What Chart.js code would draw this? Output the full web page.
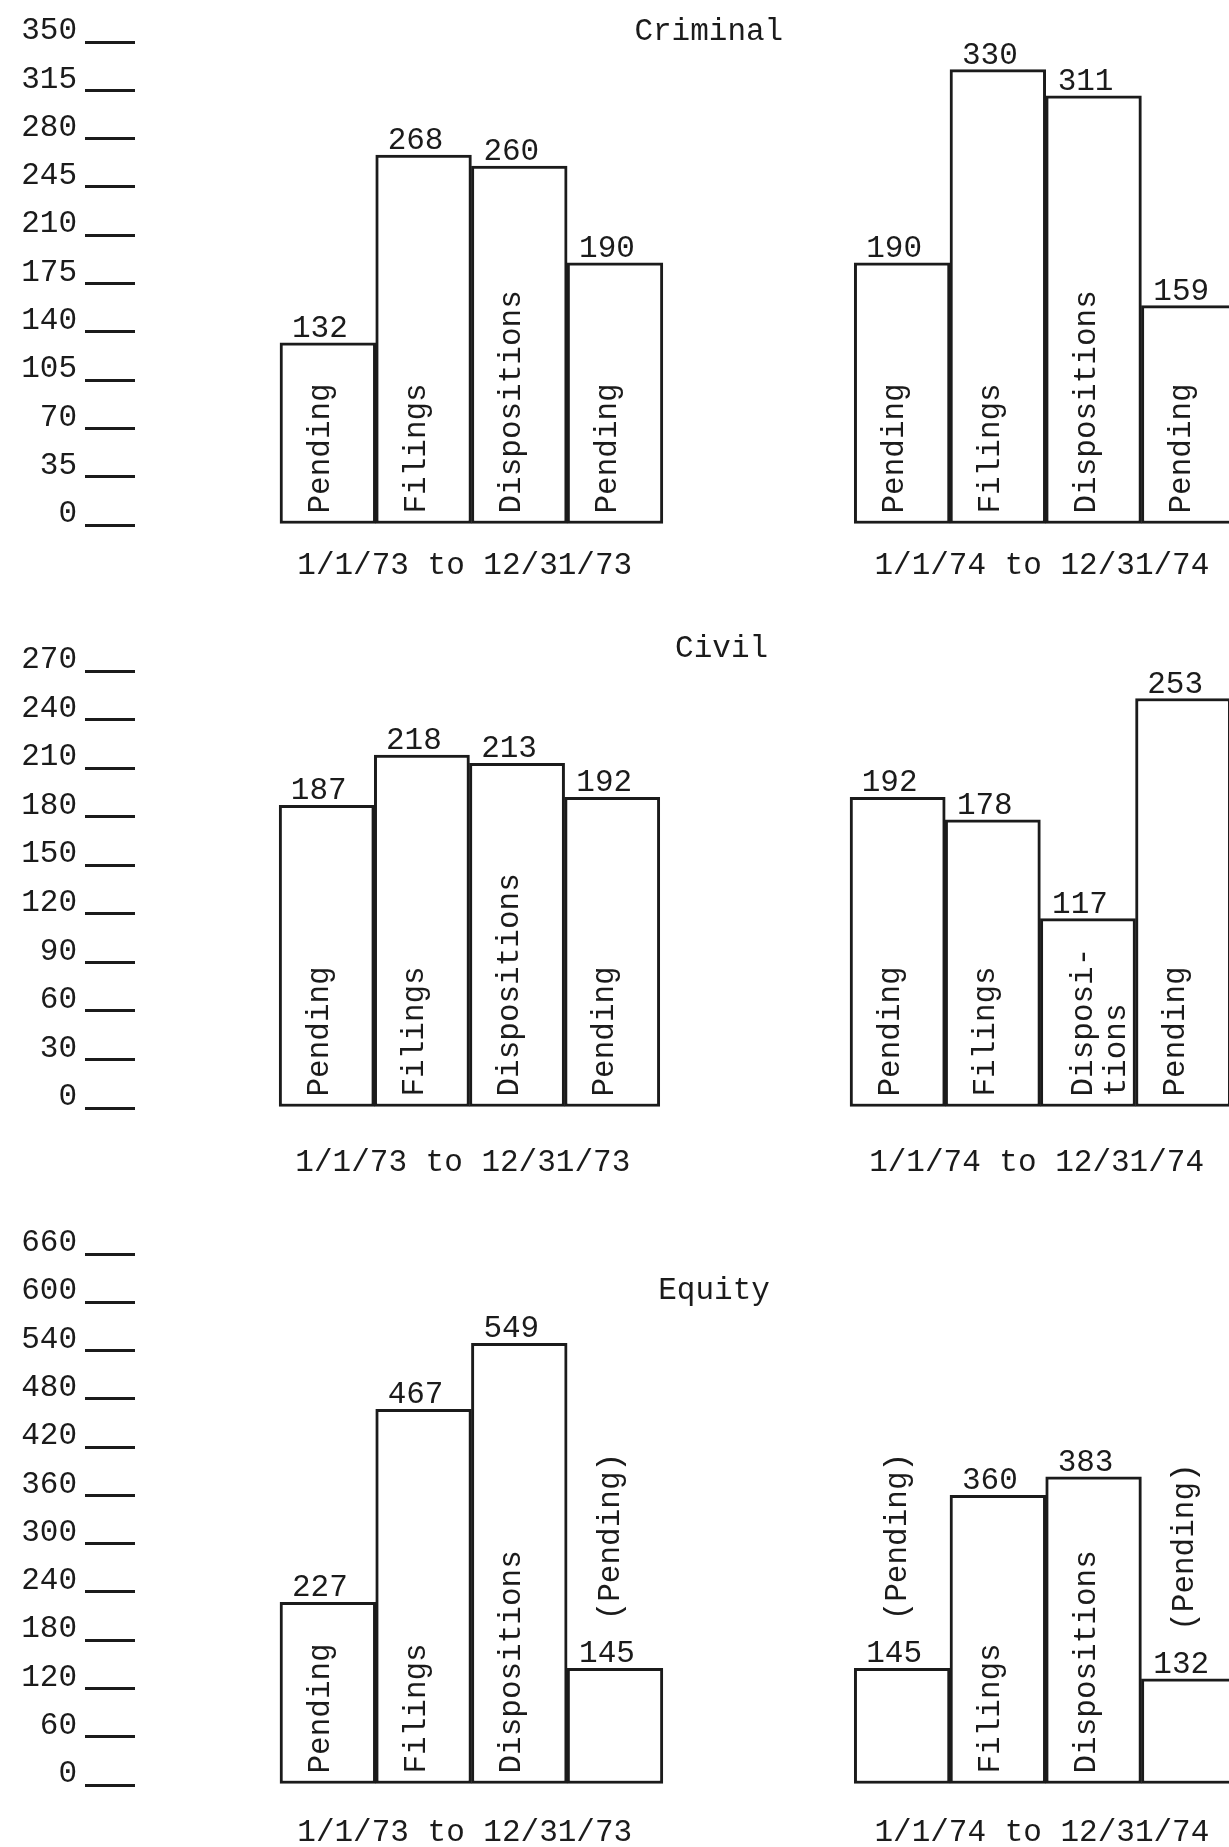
<!DOCTYPE html>
<html><head><meta charset="utf-8">
<script src="https://cdn.jsdelivr.net/npm/chart.js@4.4.1/dist/chart.umd.min.js"></script>
<style>
html,body{margin:0;padding:0;background:#fff;overflow:hidden;width:1229px;height:1847px;}
.panel{position:absolute;left:0;}
canvas{display:block;}
</style></head><body>
<div class="panel" style="top:0px"><canvas id="criminal" width="1240" height="600"></canvas></div>
<div class="panel" style="top:600px"><canvas id="civil" width="1240" height="600"></canvas></div>
<div class="panel" style="top:1200px"><canvas id="equity" width="1240" height="647"></canvas></div>
<script>
// ---- data ----
const periods = ['1/1/73 to 12/31/73', '1/1/74 to 12/31/74'];
const categories = ['Pending', 'Filings', 'Dispositions', 'Pending'];

const criminal1973 = [132, 268, 260, 190];
const criminal1974 = [190, 330, 311, 159];
const civil1973 = [187, 218, 213, 192];
const civil1974 = [192, 178, 117, 253];
const equity1973 = [227, 467, 549, 145];
const equity1974 = [145, 360, 383, 132];

const criminalTicks = [0, 35, 70, 105, 140, 175, 210, 245, 280, 315, 350];
const civilTicks = [0, 30, 60, 90, 120, 150, 180, 210, 240, 270];
const equityTicks = [0, 60, 120, 180, 240, 300, 360, 420, 480, 540, 600, 660];

// text written inside / above the bars
const civilInner1974 = ['Pending', 'Filings', 'Disposi-\ntions', 'Pending'];
const equityInner1973 = ['Pending', 'Filings', 'Dispositions', ''];
const equityInner1974 = ['', 'Filings', 'Dispositions', ''];
const equityAbove1973 = ['', '', '', '(Pending)'];
const equityAbove1974 = ['(Pending)', '', '', '(Pending)'];
const noText = ['', '', '', ''];

// ---- drawing ----
const FONT = '"Liberation Mono", "DejaVu Sans Mono", monospace';
const INK = '#1b1b1b';
const FS = 31;
Chart.defaults.font.family = FONT;
Chart.defaults.color = INK;

const X_MIN = -2.015, X_MAX = 9.53;   // x axis range in bar slots
const PERIOD_AT = [1.43, 7.46];        // where period captions sit on the x axis
const AXIS_W = 135;

function makePanel(id, p) {
  const canvas = document.getElementById(id);
  const H = canvas.height;
  const points = [], inner = [], above = [];
  [p.v73, p.v74].forEach((vals, g) => {
    vals.forEach((v, i) => {
      points.push({ x: g * 6 + i, y: v });
      inner.push([p.inner73, p.inner74][g][i]);
      above.push([p.above73, p.above74][g][i]);
    });
  });

  const textPlugin = {
    id: 'barText' + id,
    afterDatasetsDraw(chart) {
      const ctx = chart.ctx;
      const meta = chart.getDatasetMeta(0);
      ctx.save();
      ctx.fillStyle = INK;
      ctx.font = FS + 'px ' + FONT;
      meta.data.forEach((el, k) => {
        ctx.textAlign = 'center';
        ctx.textBaseline = 'alphabetic';
        ctx.fillText(String(points[k].y), el.x - 8, el.y - 6);
        if (inner[k]) {
          const lines = inner[k].split('\n');
          ctx.save();
          ctx.translate(el.x + 1 + (lines.length - 1) * 3, el.base - 10);
          ctx.rotate(-Math.PI / 2);
          ctx.textAlign = 'left';
          lines.forEach((ln, j) => ctx.fillText(ln, 0, j * 33));
          ctx.restore();
        }
        if (above[k]) {
          ctx.save();
          ctx.translate(el.x + 4, el.y - 48);
          ctx.rotate(-Math.PI / 2);
          ctx.textAlign = 'left';
          ctx.fillText(above[k], 0, 0);
          ctx.restore();
        }
      });
      ctx.textAlign = 'center';
      ctx.textBaseline = 'middle';
      ctx.fillText(p.title, chart.scales.x.getPixelForValue(p.titleAt), p.titleY);
      ctx.restore();
    }
  };

  new Chart(canvas, {
    type: 'bar',
    data: {
      datasets: [{
        data: points,
        backgroundColor: '#ffffff',
        borderColor: INK,
        borderWidth: 3,
        borderSkipped: false,
        categoryPercentage: 1,
        barPercentage: 1
      }]
    },
    options: {
      responsive: false,
      animation: false,
      devicePixelRatio: 1,
      layout: { padding: { top: p.chartTop, left: 0, right: 0, bottom: 0 } },
      plugins: { legend: { display: false }, tooltip: { enabled: false }, title: { display: false } },
      scales: {
        x: {
          type: 'linear', min: X_MIN, max: X_MAX, offset: false, bounds: 'data',
          grid: { display: false, drawTicks: false },
          border: { display: false },
          afterFit: s => { s.height = H - p.chartBottom; },
          afterBuildTicks: s => { s.ticks = PERIOD_AT.map(v => ({ value: v })); },
          ticks: {
            autoSkip: false, maxRotation: 0, minRotation: 0, padding: p.labelPad,
            color: INK, font: { family: FONT, size: FS },
            callback: (v, i) => periods[i]
          }
        },
        y: {
          min: 0, max: p.ticks[p.ticks.length - 1],
          grid: { drawOnChartArea: false, drawTicks: true, tickLength: 50, lineWidth: 3, color: INK },
          border: { display: false },
          afterFit: s => { s.width = AXIS_W; },
          afterBuildTicks: s => { s.ticks = p.ticks.map(v => ({ value: v })); },
          ticks: { padding: 8, labelOffset: -11, autoSkip: false, color: INK, font: { family: FONT, size: FS } }
        }
      }
    },
    plugins: [textPlugin]
  });
}

makePanel('criminal', {
  title: 'Criminal', titleAt: 3.98, titleY: 32,
  v73: criminal1973, v74: criminal1974,
  inner73: categories, inner74: categories, above73: noText, above74: noText,
  ticks: criminalTicks, chartTop: 42, chartBottom: 525, labelPad: 22
});
makePanel('civil', {
  title: 'Civil', titleAt: 4.15, titleY: 49,
  v73: civil1973, v74: civil1974,
  inner73: categories, inner74: civilInner1974, above73: noText, above74: noText,
  ticks: civilTicks, chartTop: 71, chartBottom: 508, labelPad: 36
});
makePanel('equity', {
  title: 'Equity', titleAt: 4.035, titleY: 91,
  v73: equity1973, v74: equity1974,
  inner73: equityInner1973, inner74: equityInner1974, above73: equityAbove1973, above74: equityAbove1974,
  ticks: equityTicks, chartTop: 54, chartBottom: 585, labelPad: 29
});
</script>
</body></html>
